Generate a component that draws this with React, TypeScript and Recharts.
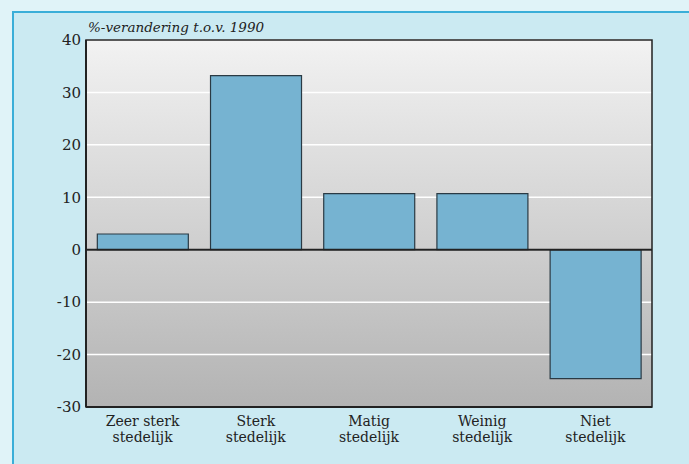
import React from 'react';
import { BarChart, Bar, XAxis, YAxis, CartesianGrid, ReferenceLine, ReferenceArea } from 'recharts';

const categories = ['Zeer sterk|stedelijk', 'Sterk|stedelijk', 'Matig|stedelijk', 'Weinig|stedelijk', 'Niet|stedelijk'];
const values = [3.0, 33.2, 10.7, 10.7, -24.6];
const yTicks = [-30, -20, -10, 0, 10, 20, 30, 40];
const title = '%-verandering t.o.v. 1990';

const data = categories.map((c, i) => ({ name: c, value: values[i] }));

const FONT = 'DejaVu Serif';

const XTick = (props: any) => {
  const { x, y, payload } = props;
  const lines = String(payload.value).split('|');
  return (
    <text x={x} y={y} textAnchor="middle" fontFamily={FONT} fontSize={14} fill="#222">
      {lines.map((l, i) => (
        <tspan key={i} x={x} dy={i === 0 ? 11 : 16}>{l}</tspan>
      ))}
    </text>
  );
};

export default function App() {
  return (
    <div style={{ position: 'absolute', left: 0, top: 0, width: 689, height: 464, background: '#e0f3f8', overflow: 'hidden' }}>
      <div style={{ position: 'absolute', left: 12, top: 11, width: 689, height: 464, background: '#cbeaf2', borderTop: '2px solid #3aaed8', borderLeft: '2px solid #3aaed8' }} />
      <div style={{ position: 'absolute', left: 88, top: 19, fontFamily: FONT, fontStyle: 'italic', fontSize: 13.5, color: '#222', lineHeight: '16px' }}>{title}</div>
      <div style={{ position: 'absolute', left: 0, top: 0 }}>
        <BarChart width={689} height={464} data={data} margin={{ top: 40, right: 37, left: 26, bottom: 7 }} barCategoryGap="10%">
          <defs>
            <linearGradient id="bgGrad" x1="0" y1="0" x2="0" y2="1">
              <stop offset="0%" stopColor="#f2f2f2" />
              <stop offset="100%" stopColor="#b3b3b3" />
            </linearGradient>
          </defs>
          <CartesianGrid vertical={false} stroke="#ffffff" strokeWidth={1.5} fill="url(#bgGrad)" fillOpacity={1} />
          <XAxis dataKey="name" height={50} tick={<XTick />} tickLine={false} axisLine={{ stroke: '#222', strokeWidth: 2 }} interval={0} />
          <YAxis width={60} domain={[-30, 40]} ticks={yTicks} tickLine={false} tickSize={2} tickMargin={3} axisLine={{ stroke: '#222', strokeWidth: 2 }} tick={{ fontFamily: FONT, fontSize: 15, fill: '#222' }} />
          <ReferenceArea y1={-30} y2={40} fill="none" stroke="#222" strokeWidth={1.5} ifOverflow="visible" />
          <ReferenceLine y={0} stroke="#222" strokeWidth={2} />
          <Bar dataKey="value" fill="#76b3d1" stroke="#2a3a44" strokeWidth={1.2} isAnimationActive={false} />
        </BarChart>
      </div>
    </div>
  );
}
